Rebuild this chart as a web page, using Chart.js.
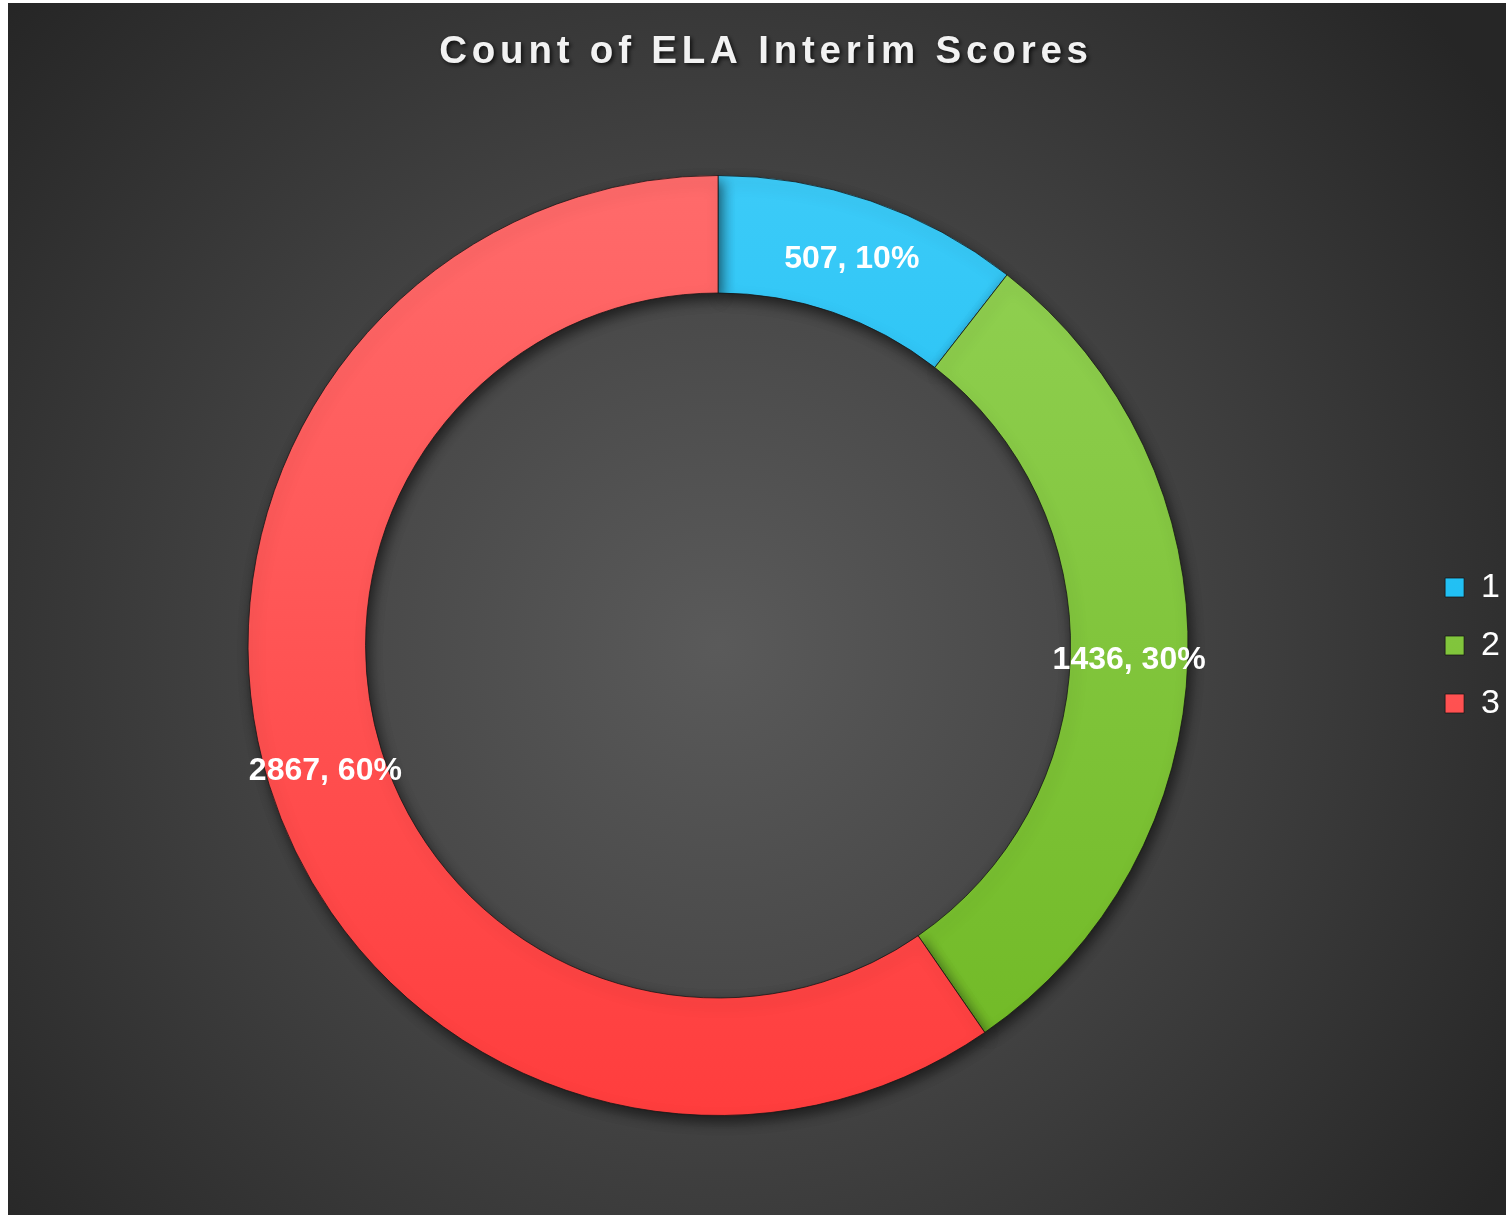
<!DOCTYPE html>
<html>
<head>
<meta charset="utf-8">
<script src="https://cdn.jsdelivr.net/npm/chart.js@4.4.1/dist/chart.umd.min.js"></script>
<style>
  html, body { margin: 0; background: #fff; }
  #wrap { position: absolute; left: 8px; top: 3px; width: 1498px; height: 1212px; }
</style>
</head>
<body>
<div id="wrap"><canvas id="chartScores"></canvas></div>
<script>
// ---- data ----
const TITLE = "Count of ELA Interim Scores";
const categories = ["1", "2", "3"];
const counts = [507, 1436, 2867];
const percentLabels = ["10%", "30%", "60%"]; // as printed on the chart

// ---- styles ----
const FONT = "'Liberation Sans', Arial, sans-serif";
const RADIUS = 470;
const colorsTop = ["#3ccbf8", "#93d255", "#ff6b6b"];
const colorsBottom = ["#00b2ee", "#6fb823", "#ff3d3d"];

function segmentFill(c) {
  const chart = c.chart;
  const area = chart.chartArea;
  const i = c.dataIndex;
  if (!area || i === undefined) return colorsBottom[i || 0];
  const cy = (area.top + area.bottom) / 2;
  const g = chart.ctx.createLinearGradient(0, cy - RADIUS, 0, cy + RADIUS);
  g.addColorStop(0, colorsTop[i]);
  g.addColorStop(1, colorsBottom[i]);
  return g;
}

// background + title
const backdrop = {
  id: "backdrop",
  beforeDraw(chart) {
    const { ctx, width, height, chartArea } = chart;
    const cx = (chartArea.left + chartArea.right) / 2;
    const cy = (chartArea.top + chartArea.bottom) / 2;
    const g = ctx.createRadialGradient(cx, cy, 0, cx, cy, 950);
    g.addColorStop(0, "#5a5a5a");
    g.addColorStop(0.35, "#4a4a4a");
    g.addColorStop(1, "#262626");
    ctx.save();
    ctx.fillStyle = g;
    ctx.fillRect(0, 0, width, height);
    ctx.font = "bold 38.5px " + FONT;
    ctx.letterSpacing = "4.8px";
    ctx.textAlign = "center";
    ctx.textBaseline = "alphabetic";
    ctx.fillStyle = "#f2f2f2";
    ctx.shadowColor = "rgba(0,0,0,0.75)";
    ctx.shadowBlur = 4;
    ctx.shadowOffsetX = 2;
    ctx.shadowOffsetY = 2;
    ctx.fillText(TITLE, width / 2 + 9, 60);
    ctx.restore();
  }
};

const ringShadow = {
  id: "ringShadow",
  beforeDatasetsDraw(chart) {
    const c = chart.ctx;
    c.save();
    c.shadowColor = "rgba(0,0,0,0.6)";
    c.shadowBlur = 14;
    c.shadowOffsetX = 3;
    c.shadowOffsetY = 6;
  },
  afterDatasetsDraw(chart) { chart.ctx.restore(); }
};

const sliceLabels = {
  id: "sliceLabels",
  afterDatasetsDraw(chart) {
    const ctx = chart.ctx;
    const meta = chart.getDatasetMeta(0);
    ctx.save();
    ctx.font = "bold 32px " + FONT;
    ctx.fillStyle = "#ffffff";
    ctx.textAlign = "center";
    ctx.textBaseline = "middle";
    meta.data.forEach((arc, i) => {
      const p = arc.tooltipPosition(true);
      ctx.fillText(counts[i] + ", " + percentLabels[i], p.x, p.y + 3);
    });
    ctx.restore();
  }
};

new Chart(document.getElementById("chartScores"), {
  type: "doughnut",
  data: {
    labels: categories,
    datasets: [{
      data: counts,
      backgroundColor: segmentFill,
      borderColor: "rgba(20,20,20,0.75)",
      borderWidth: 1
    }]
  },
  options: {
    responsive: true, maintainAspectRatio: false, animation: false, events: [],
    radius: RADIUS, cutout: "75%",
    layout: { padding: { top: 140, bottom: 67, left: 7, right: -4 } },
    plugins: {
      title: { display: false },
      tooltip: { enabled: false },
      legend: {
        position: "right",
        labels: {
          color: "#ffffff",
          font: { family: FONT, size: 34 },
          boxWidth: 19, boxHeight: 19, padding: 24
        }
      }
    }
  },
  plugins: [backdrop, ringShadow, sliceLabels]
});
</script>
</body>
</html>
